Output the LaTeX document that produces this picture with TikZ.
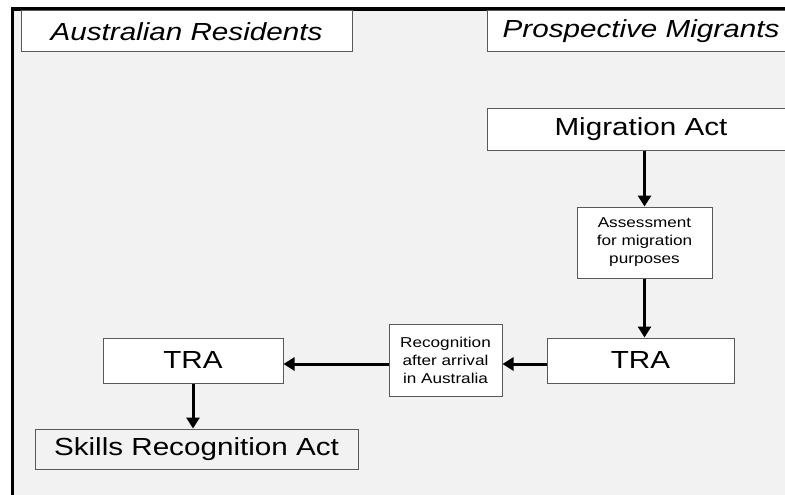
\documentclass[tikz,border=0pt]{standalone}
\usepackage{fontspec}
\setmainfont[FakeStretch=1.2]{Liberation Sans}
\usetikzlibrary{arrows.meta}
\definecolor{panel}{HTML}{F2F2F2}
\definecolor{edge}{HTML}{595959}
\tikzset{
  box/.style={draw=edge, line width=1pt, fill=white, inner sep=0pt, align=center},
  head/.style={box, minimum height=41pt, font=\fontsize{24.7}{29}\selectfont\itshape},
  big/.style={box, font=\fontsize{24.7}{29}\selectfont},
  small/.style={box, font=\fontsize{14.3}{18}\selectfont},
  flow/.style={line width=3pt, -{Triangle[width=13pt,length=11pt]}},
}
\begin{document}
\begin{tikzpicture}[x=1pt, y=-1pt]
  \useasboundingbox (0,0) rectangle (785,495);
  \fill[panel] (12.5,9) rectangle (800,505);
  \draw[line width=3.5pt] (12.5,505) -- (12.5,9) -- (800,9);
  % column heads
  \node[head, minimum width=331pt] (res) at (186.5,31.5) {Australian Residents};
  \node[head, minimum width=308pt] (pros) [right of=res, node distance=454.5pt] {Prospective Migrants};
  % migrant path
  \node[big, minimum width=308pt, minimum height=42pt] (mig) [below of=pros, node distance=97.5pt] {Migration Act};
  \node[small, minimum width=135pt, minimum height=71pt] (assess) [below of=mig, node distance=113.5pt, xshift=3.5pt] {Assessment\\for migration\\purposes};
  \node[big, minimum width=187pt, minimum height=45pt] (trar) [below of=assess, node distance=118pt, xshift=-4pt] {TRA};
  \node[small, minimum width=113pt, minimum height=72pt] (recog) [left of=trar, node distance=195pt] {Recognition\\after arrival\\in Australia};
  % resident path
  \node[big, minimum width=180pt, minimum height=45pt] (tral) [left of=recog, node distance=252.5pt] {TRA};
  \node[big, fill=panel, minimum width=323pt, minimum height=40pt] (skills) [below of=tral, node distance=88.5pt, xshift=3.5pt] {Skills Recognition Act};
  \coordinate (mid) at ([yshift=-3.5pt]trar.west);
  \draw[flow] (mig.south -| assess.north) -- (assess.north);
  \draw[flow] (assess.south) -- (assess.south |- trar.north);
  \draw[flow] (mid) -- (mid -| recog.east);
  \draw[flow] (mid -| recog.west) -- (mid -| tral.east);
  \draw[flow] (tral.south) -- (tral.south |- skills.north);
\end{tikzpicture}
\end{document}
